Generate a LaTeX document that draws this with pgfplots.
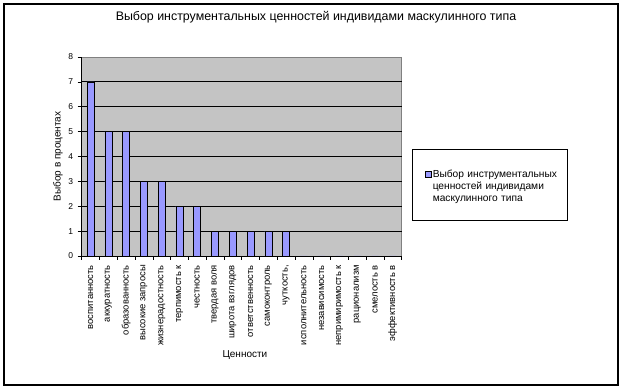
\documentclass[border=0pt]{standalone}
\usepackage{fontspec}
\setmainfont{Liberation Sans}
\usepackage{pgfplots}
\pgfplotsset{compat=1.18}
\definecolor{barcol}{RGB}{153,153,255}
\definecolor{plotbg}{RGB}{196,196,196}
\definecolor{bordgray}{RGB}{128,128,128}
\begin{document}
\begin{tikzpicture}[x=1pt,y=1pt]
\path[use as bounding box] (0,0) rectangle (624,390);
\draw[line width=1.2pt] (4,5) rectangle (618,386);
\node[font=\fontsize{12.4}{14}\selectfont] at (316,373) {Выбор инструментальных ценностей индивидами маскулинного типа};
\draw[line width=0.8pt] (412.3,170) rectangle (567.3,241);
\begin{axis}[
  at={(81.7pt,134pt)}, anchor=south west,
  scale only axis, width=320pt, height=199pt,
  xmin=-0.5, xmax=17.5, ymin=0, ymax=8,
  axis lines=left, axis line style={-, black, line width=0.8pt},
  axis background/.style={fill=plotbg, draw=bordgray, line width=0.6pt},
  ybar, bar width=7pt, bar shift=0pt,
  xtick={0,...,17},
  xticklabels={воспитанность,аккуратность,образованность,высокие запросы,жизнерадостность,терпимость к,честность,твердая воля,широта взглядов,ответственность,самоконтроль,{чуткость,},исполнительность,независимость,непримиримость к,рационализм,смелость в,эффективность в},
  major x tick style={draw=none},
  minor xtick={-0.5,0.5,...,17.5},
  minor x tick style={black, line width=0.6pt},
  ytick={0,...,8},
  minor ytick={1,...,7},
  yminorgrids, minor y grid style={black, line width=0.8pt},
  minor y tick style={draw=none},
  major y tick style={black, line width=0.6pt},
  tick align=outside,
  major tick length=4pt, minor tick length=4pt,
  /pgf/number format/assume math mode=true,
  yticklabel style={font=\fontsize{8.5}{10}\selectfont, xshift=-1pt},
  xticklabel style={yshift=-5pt, rotate=90, anchor=east, font=\fontsize{9.4}{10}\selectfont, inner sep=0pt},
  ylabel={Выбор в процентах},
  ylabel style={at={(axis description cs:-0.074,0.5)}, anchor=center, font=\fontsize{10}{12}\selectfont},
  xlabel={Ценности},
  xlabel style={at={(axis description cs:0.51,-0.497)}, anchor=center, font=\fontsize{10}{12}\selectfont},
  legend style={at={(1.073,0.44)}, anchor=north west, draw=none, fill=none, inner sep=0pt,
    font=\fontsize{10.2}{12.3}\selectfont,
    nodes={text width=131pt, align=left, inner sep=1pt}},
  legend image code/.code={\draw[fill=barcol, draw=black, line width=0.5pt] (0pt,-3pt) rectangle (6pt,3pt);},
]
\addplot[fill=barcol, draw=black, line width=0.6pt] coordinates {
(0,7) (1,5) (2,5) (3,3) (4,3) (5,2) (6,2) (7,1) (8,1) (9,1) (10,1) (11,1)
(12,0) (13,0) (14,0) (15,0) (16,0) (17,0)};
\addlegendentry{Выбор инструментальных\\ценностей индивидами\\маскулинного типа}
\end{axis}
\end{tikzpicture}
\end{document}
